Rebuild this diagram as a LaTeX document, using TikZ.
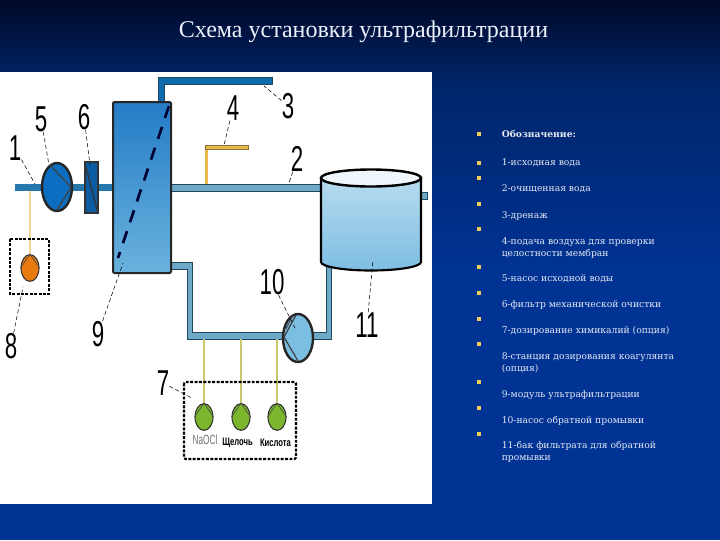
\documentclass[tikz,border=0pt]{standalone}
\usepackage{fontspec}
\setmainfont{Liberation Serif}
\newfontfamily\legendfont{DejaVu Serif}
\newfontfamily\numfont[FakeStretch=0.62]{Liberation Sans}
\newfontfamily\chemfont[FakeStretch=0.7]{Liberation Sans}
\usetikzlibrary{shapes.geometric,positioning,calc}
\definecolor{BgTop}{RGB}{0, 8, 40}
\definecolor{BgMid}{RGB}{0, 36, 104}
\definecolor{BgLow}{RGB}{0, 51, 148}
\definecolor{TitleWhite}{RGB}{235, 240, 250}
\definecolor{LegendGrey}{RGB}{228, 233, 244}
\definecolor{BulletYellow}{RGB}{240, 205, 90}
\definecolor{PipeDark}{RGB}{14, 108, 172}
\definecolor{PipeFeed}{RGB}{38, 120, 172}
\definecolor{PipeLight}{RGB}{110, 170, 200}
\definecolor{PipeEdge}{RGB}{30, 70, 95}
\definecolor{AirYellow}{RGB}{232, 186, 78}
\definecolor{PumpBlue}{RGB}{12, 110, 192}
\definecolor{PumpLight}{RGB}{122, 190, 226}
\definecolor{ChemGreen}{RGB}{124, 182, 44}
\definecolor{ChemLine}{RGB}{200, 200, 110}
\definecolor{DoseOrange}{RGB}{232, 122, 16}
\tikzset{
  numlabel/.style={inner sep=0pt, font=\numfont\fontsize{27}{27}\selectfont},
  leader/.style={densely dashed, line width=0.4pt, black},
  pipedark/.style={fill=PipeDark, draw=PipeEdge, line width=0.5pt},
  pipefeed/.style={fill=PipeFeed, draw=none},
  pipelight/.style={fill=PipeLight, draw=PipeEdge, line width=0.5pt},
  pumpbody/.style={ellipse, draw=black!85, line width=1.8pt, inner sep=0pt, minimum width=22.5pt, minimum height=36pt},
  dosebody/.style={ellipse, draw=black!80, line width=0.8pt, inner sep=0pt, minimum width=13.5pt, minimum height=20pt},
  dosebox/.style={draw=black, line width=1.6pt, dash pattern=on 2.2pt off 1.1pt},
  legendtext/.style={anchor=west, inner sep=0pt, align=left, text=LegendGrey, font=\legendfont\fontsize{6.9}{9}\selectfont},
  chemtext/.style={inner sep=0pt, font=\chemfont\bfseries\fontsize{8.2}{8.2}\selectfont}
}

\begin{document}
\begin{tikzpicture}[x=0.75pt, y=-0.75pt]
  \useasboundingbox (0,0) rectangle (720,540);

  % Background
  \shade[top color=BgTop, bottom color=BgMid] (0,0) rectangle (720,80);
  \shade[top color=BgMid, bottom color=BgLow] (0,80) rectangle (720,270);
  \fill[BgLow] (0,270) rectangle (720,540);
  \fill[white] (0,72) rectangle (432,504);

  % Title
  \node[text=TitleWhite, font=\fontsize{18}{20}\selectfont] (title) at (363.5,32) {Схема установки ультрафильтрации};

  % Pipes
  \fill[pipefeed] (15,184) rectangle (113,191);
  \draw[pipedark] (158,102) -- (158,77) -- (272,77) -- (272,84) -- (164,84) -- (164,102) -- cycle;
  \draw[pipelight] (171,184) rectangle (321,191);
  \draw[pipelight] (171,262) -- (192,262) -- (192,332) -- (326,332) -- (326,262) -- (331,262) -- (331,339) -- (187,339) -- (187,269) -- (171,269) -- cycle;
  \draw[pipelight] (421,192) rectangle (427,199);

  % Air line
  \fill[AirYellow] (205,146) rectangle (208,184);
  \draw[fill=AirYellow, draw=AirYellow!60!black, line width=0.4pt] (205,145) rectangle (248,149);

  % UF module
  \draw[top color=PumpBlue!90!white, bottom color=PumpLight!85!PumpBlue, draw=black!85, line width=1.5pt, rounded corners=1pt] (113,102) rectangle (171,273);
  \draw[line width=2pt, draw=black!80!blue, dash pattern=on 9.5pt off 7pt] (169,106) -- (118,258);

  % Feed pump and filter
  \node[pumpbody, fill=PumpBlue] (pump5) at (57,187) {};
  \draw[line width=0.9pt, black!75] (50,165) -- (71,187) -- (57,210);
  \draw[fill=PumpBlue!85!black, draw=black!80, line width=1.2pt] (85,162) rectangle (98,213);
  \draw[line width=0.9pt, black!80] (86,167) -- (97,210);

  % Tank
  \draw[top color=PumpLight!55!white, bottom color=PumpLight!90!PumpBlue!90, draw=black, line width=1.6pt] (321,178) -- (321,262) arc[start angle=180, end angle=0, x radius=50, y radius=8.5] -- (421,178) -- cycle;
  \draw[fill=PumpLight!12, draw=black, line width=1.8pt] (371,178) ellipse (50 and 8.5);

  % Dosing lines and stations
  \node[dosebody, fill=DoseOrange] (dose8) at (30,268) {};
  \coordinate (tap8) at (30,191);
  \draw[AirYellow!60!white, line width=1pt] (tap8) -- (dose8);
  \draw[dosebox] (10,239) rectangle (49,294);

  \node[dosebody, fill=ChemGreen] (chemA) at (204,417) {};
  \node[dosebody, fill=ChemGreen] (chemB) at (241,417) {};
  \node[dosebody, fill=ChemGreen] (chemC) at (277,417) {};
  \coordinate (tapA) at (204,339);
  \coordinate (tapB) at (241,339);
  \coordinate (tapC) at (277,339);
  \foreach \tapname/\chemname in {tapA/chemA, tapB/chemB, tapC/chemC}
    \draw[ChemLine, line width=0.8pt] (\tapname) -- (\chemname);
  \foreach \chemname in {chemA, chemB, chemC, dose8}
    \draw[black!70, line width=0.5pt] (\chemname.west) -- (\chemname.north) -- (\chemname.east);
  \draw[dosebox, rounded corners=1pt] (184,382) rectangle (296,459);
  \node[text=black!55, font=\numfont\fontsize{10}{10}\selectfont, inner sep=0pt] (naocl) at (205,440) {NaOCl};
  \node[chemtext] (alkali) at (237.5,443) {Щелочь};
  \node[chemtext] (acid) at (275.5,443) {Кислота};

  % Backwash pump
  \node[pumpbody, fill=PumpLight] (pump10) at (298,338) {};
  \draw[line width=0.9pt, black!75] (296,315) -- (284,337) -- (298,361);
  \draw[line width=0.6pt, black!75] (293,315) -- (286,329);

  % Numbers
  \node[numlabel] (n1) at (15,148) {1};
  \node[numlabel] (n2) at (297,159) {2};
  \node[numlabel] (n3) at (288,106) {3};
  \node[numlabel] (n4) at (233,108) {4};
  \node[numlabel] (n5) at (41,119) {5};
  \node[numlabel] (n6) at (84,117) {6};
  \node[numlabel] (n7) at (163,383) {7};
  \node[numlabel] (n8) at (11,346) {8};
  \node[numlabel] (n9) at (98,334) {9};
  \node[numlabel] (n10) at (272,282) {10};
  \node[numlabel] (n11) at (367,325) {11};

  % Leader lines
  \foreach \numname/\tx/\ty in {n1/35/184, n2/289/183, n3/264/86, n4/224/145, n5/49/165, n6/90/165, n7/192/398, n8/23/287, n9/123/263, n10/295/328, n11/373/260} {
    \coordinate (t\numname) at (\tx,\ty);
    \draw[leader] (\numname) -- (t\numname);
  }

  % Bullets
  \foreach \yy in {134,163,178,204,229,267,293,319,344,382,408,434}
    \fill[BulletYellow] (476.5,\yy-2.5) rectangle (481,\yy+2);

  % Legend
  \foreach \yy/\txt [count=\i] in {
    134/{\bfseries Обозначение:},
    163/{1-исходная вода},
    189/{2-очищенная вода},
    216/{3-дренаж},
    248/{4-подача воздуха для проверки\\целостности мембран},
    279/{5-насос исходной воды},
    305/{6-фильтр механической очистки},
    331/{7-дозирование химикалий (опция)},
    363/{8-станция дозирования коагулянта\\(опция)},
    395/{9-модуль ультрафильтрации},
    421/{10-насос обратной промывки},
    452/{11-бак фильтрата для обратной\\промывки}}
    \node[legendtext] (legend\i) at (501.5,\yy) {\txt};
\end{tikzpicture}
\end{document}
